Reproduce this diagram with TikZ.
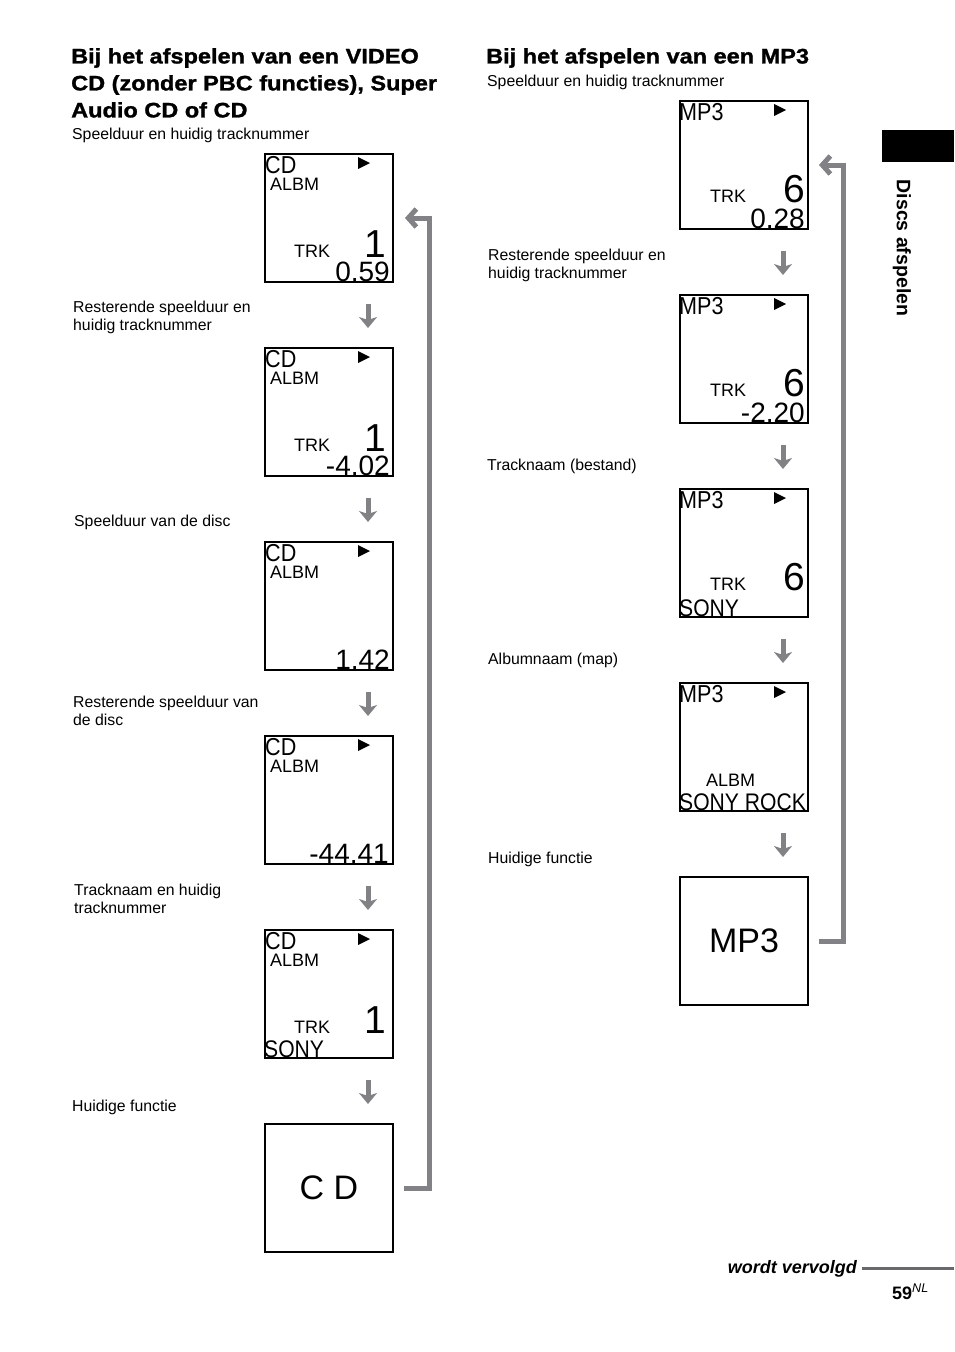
\documentclass[tikz,border=0pt]{standalone}
\usepackage{fontspec}
\setmainfont{Liberation Sans}
\newfontfamily\headfont{Liberation Sans}[FakeStretch=1.12, FakeBold=1.3]
\newfontfamily\lcdfont{Liberation Sans}[FakeStretch=0.88]
\usetikzlibrary{arrows.meta,positioning}
\definecolor{flowgray}{RGB}{130,130,134}
\definecolor{rulegray}{RGB}{105,105,108}
\tikzset{
  lcdbox/.style={draw=black, line width=2pt, minimum width=128pt, minimum height=128pt, inner sep=0pt, outer sep=0pt, anchor=north west},
  lcdtag/.style={anchor=base west, inner sep=0pt, font=\lcdfont\fontsize{24.5}{24.5}\selectfont},
  lcdsmall/.style={anchor=base west, inner sep=0pt, font=\fontsize{18}{18}\selectfont},
  lcdnum/.style={anchor=base east, inner sep=0pt, font=\fontsize{39}{39}\selectfont},
  lcdtime/.style={anchor=base east, inner sep=0pt, font=\fontsize{28}{28}\selectfont},
  lcdname/.style={anchor=base west, inner sep=0pt, font=\lcdfont\fontsize{24}{24}\selectfont},
  lcdmode/.style={inner sep=0pt, font=\fontsize{34}{34}\selectfont},
  heading/.style={anchor=north west, inner sep=0pt, align=left, font=\headfont\bfseries\fontsize{21}{27}\selectfont},
  desc/.style={anchor=north west, inner sep=0pt, align=left, font=\fontsize{15.8}{18}\selectfont},
  stepdown/.style={draw=flowgray, line width=5pt, -{Stealth[length=11pt, width=18pt, inset=3pt]}},
  loopback/.style={draw=flowgray, line width=5pt, -{Straight Barb[length=8pt, width=18pt]}}
}

\begin{document}
\begin{tikzpicture}[x=1pt, y=-1pt]
\useasboundingbox (0,0) rectangle (954,1352);
\fill[white] (0,0) rectangle (954,1352);

% headings
\node[heading] (hleft) at (71,48) {Bij het afspelen van een VIDEO\\CD (zonder PBC functies), Super\\Audio CD of CD};
\node[heading] (hright) at (486,48) {Bij het afspelen van een MP3};

% left column: CD displays
\node[lcdbox] (cd1) at (265,154) {};
\node[lcdbox, below=66pt of cd1] (cd2) {};
\node[lcdbox, below=66pt of cd2] (cd3) {};
\node[lcdbox, below=66pt of cd3] (cd4) {};
\node[lcdbox, below=66pt of cd4] (cd5) {};
\node[lcdbox, below=66pt of cd5] (cd6) {};

\foreach \b in {cd1,cd2,cd3,cd4,cd5} {
  \node[lcdtag] (\b-tag) at ([shift={(0,19)}]\b.north west) {CD};
  \node[lcdsmall] (\b-albm) at ([shift={(5,36)}]\b.north west) {ALBM};
  \fill ([shift={(93,3)}]\b.north west) -- ++(12,6) -- ++(-12,6) -- cycle;
}
\foreach \b in {cd1,cd2,cd5} {
  \node[lcdsmall] (\b-trk) at ([shift={(29,103)}]\b.north west) {TRK};
  \node[lcdnum] (\b-no) at ([shift={(121,103)}]\b.north west) {1};
}
\node[lcdtime] (cd1-time) at ([shift={(125,127)}]cd1.north west) {0.59};
\node[lcdtime] (cd2-time) at ([shift={(125,127)}]cd2.north west) {-4.02};
\node[lcdtime] (cd3-time) at ([shift={(125,127)}]cd3.north west) {1.42};
\node[lcdtime] (cd4-time) at ([shift={(124,127)}]cd4.north west) {-44.41};
\node[lcdname] (cd5-name) at ([shift={(-1,127)}]cd5.north west) {SONY};
\node[lcdmode] (cd6-mode) at (cd6) {C D};

% right column: MP3 displays
\node[lcdbox] (mp1) at (680,101) {};
\node[lcdbox, below=66pt of mp1] (mp2) {};
\node[lcdbox, below=66pt of mp2] (mp3) {};
\node[lcdbox, below=66pt of mp3] (mp4) {};
\node[lcdbox, below=66pt of mp4] (mp5) {};

\foreach \b in {mp1,mp2,mp3,mp4} {
  \node[lcdtag] (\b-tag) at ([shift={(-1,19)}]\b.north west) {MP3};
  \fill ([shift={(94,3)}]\b.north west) -- ++(12,6) -- ++(-12,6) -- cycle;
}
\foreach \b in {mp1,mp2,mp3} {
  \node[lcdsmall] (\b-trk) at ([shift={(30,101)}]\b.north west) {TRK};
  \node[lcdnum] (\b-no) at ([shift={(125,101)}]\b.north west) {6};
}
\node[lcdtime] (mp1-time) at ([shift={(125,127)}]mp1.north west) {0.28};
\node[lcdtime] (mp2-time) at ([shift={(125,127)}]mp2.north west) {-2.20};
\node[lcdname] (mp3-name) at ([shift={(-1,127)}]mp3.north west) {SONY};
\node[lcdsmall] (mp4-albm) at ([shift={(26,103)}]mp4.north west) {ALBM};
\node[lcdname] (mp4-name) at ([shift={(-1,127)}]mp4.north west) {SONY ROCK};
\node[lcdmode] (mp5-mode) at (mp5) {MP3};

% captions
\node[desc] (l1) at (72,128) {Speelduur en huidig tracknummer};
\node[desc] (l2) at (73,301) {Resterende speelduur en\\huidig tracknummer};
\node[desc] (l3) at (74,515) {Speelduur van de disc};
\node[desc] (l4) at (73,696) {Resterende speelduur van\\de disc};
\node[desc] (l5) at (74,884) {Tracknaam en huidig\\tracknummer};
\node[desc] (l6) at (72,1100) {Huidige functie};
\node[desc] (r1) at (487,75) {Speelduur en huidig tracknummer};
\node[desc] (r2) at (488,249) {Resterende speelduur en\\huidig tracknummer};
\node[desc] (r3) at (487,459) {Tracknaam (bestand)};
\node[desc] (r4) at (488,653) {Albumnaam (map)};
\node[desc] (r5) at (488,852) {Huidige functie};

% arrows
\foreach \a/\b in {cd1/cd2,cd2/cd3,cd3/cd4,cd4/cd5,cd5/cd6,mp1/mp2,mp2/mp3,mp3/mp4,mp4/mp5}
  \draw[stepdown, shorten <=22pt, shorten >=20pt] ([xshift=39pt]\a.south) -- ([xshift=39pt]\b.north);
\draw[loopback] ([xshift=11pt]cd6.east) -- ++(25,0) |- ([xshift=12pt]cd1.east);
\draw[loopback] ([xshift=11pt]mp5.east) -- ++(24,0) |- ([xshift=11pt]mp1.east);

% side tab and page foot
\node[fill=black, minimum width=72pt, minimum height=32pt, inner sep=0pt, anchor=north west] (tab) at (882,130) {};
\node[rotate=-90, inner sep=0pt, font=\bfseries\fontsize{19.5}{19.5}\selectfont] (side) at (902,248) {Discs afspelen};
\node[anchor=base east, inner sep=0pt, font=\bfseries\itshape\fontsize{18}{18}\selectfont] (cont) at (857,1273) {wordt vervolgd};
\coordinate (pgedge) at (954,1268);
\draw[rulegray, line width=3pt] ([xshift=5pt]cont.east |- pgedge) -- (pgedge);
\node[anchor=base west, inner sep=0pt, font=\bfseries\fontsize{18}{18}\selectfont] (pgno) at (892,1299) {59\textsuperscript{\itshape\mdseries NL}};
\end{tikzpicture}
\end{document}
